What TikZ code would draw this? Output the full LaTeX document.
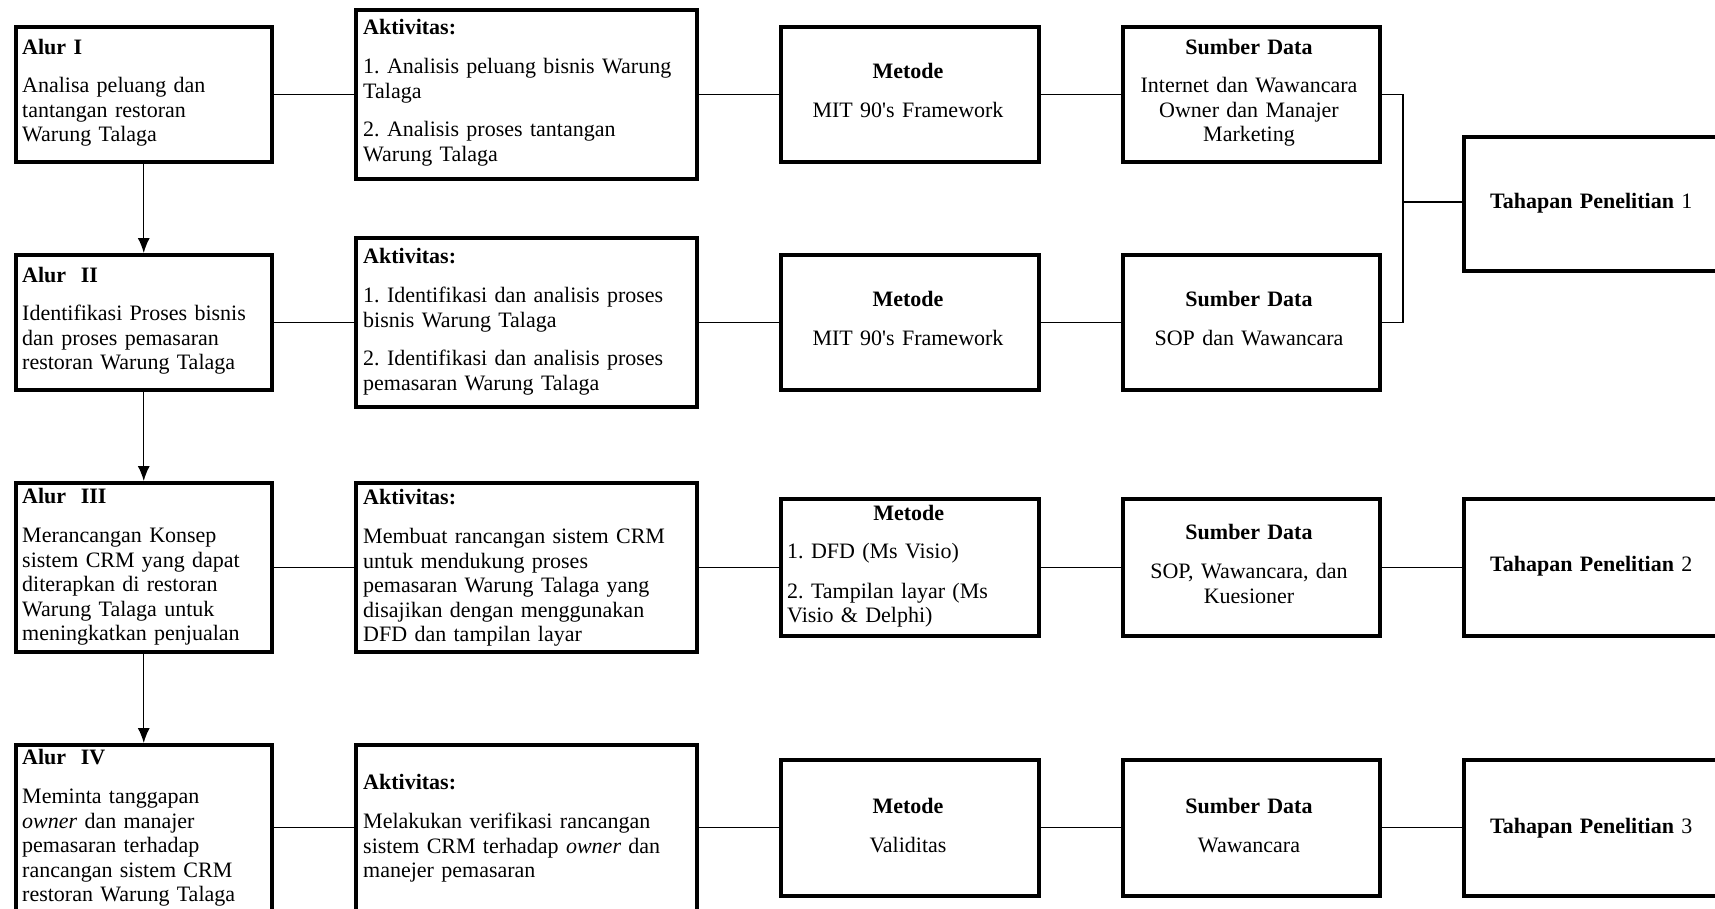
\documentclass[tikz,border=0pt]{standalone}
\usepackage{fontspec}
\setmainfont{Liberation Serif}
\usetikzlibrary{arrows.meta}
\frenchspacing
\newcommand\fs{\fontsize{22}{24.5}\selectfont\frenchspacing}
\tikzset{
  box/.style={draw, line width=3.5pt, inner sep=0pt, anchor=north west},
  lbl/.style={inner sep=0pt, anchor=base west, align=left, font=\fs},
  ctr/.style={inner sep=0pt, anchor=base, align=center, font=\fs},
  conn/.style={line width=1.3pt},
  arr/.style={line width=1.3pt, -{Latex[length=15pt,width=12pt]}},
}
\begin{document}
\begin{tikzpicture}[x=1pt,y=-1pt]
\useasboundingbox (0,0) rectangle (1715,908);
\clip (0,0) rectangle (1715,908);
% Alur column
\node[box, minimum width=256pt, minimum height=135pt] (a1) at (14,25) {};
\node[box, minimum width=256pt, minimum height=135pt] (a2) at (14,253) {};
\node[box, minimum width=256pt, minimum height=169pt] (a3) at (14,481) {};
\node[box, minimum width=256pt, minimum height=200pt] (a4) at (14,743) {};
% Aktivitas column
\node[box, minimum width=341pt, minimum height=169pt] (k1) at (354,8) {};
\node[box, minimum width=341pt, minimum height=169pt] (k2) at (354,236) {};
\node[box, minimum width=341pt, minimum height=169pt] (k3) at (354,481) {};
\node[box, minimum width=341pt, minimum height=200pt] (k4) at (354,743) {};
% Metode column
\node[box, minimum width=258pt, minimum height=135pt] (m1) at (779,25) {};
\node[box, minimum width=258pt, minimum height=135pt] (m2) at (779,253) {};
\node[box, minimum width=258pt, minimum height=137pt] (m3) at (779,497) {};
\node[box, minimum width=258pt, minimum height=136pt] (m4) at (779,758) {};
% Sumber column
\node[box, minimum width=257pt, minimum height=135pt] (s1) at (1121,25) {};
\node[box, minimum width=257pt, minimum height=135pt] (s2) at (1121,253) {};
\node[box, minimum width=257pt, minimum height=137pt] (s3) at (1121,497) {};
\node[box, minimum width=257pt, minimum height=136pt] (s4) at (1121,758) {};
% Tahapan column
\node[box, minimum width=300pt, minimum height=134pt] (p1) at (1462,135) {};
\node[box, minimum width=300pt, minimum height=137pt] (p2) at (1462,497) {};
\node[box, minimum width=300pt, minimum height=136pt] (p3) at (1462,758) {};

% Texts: Alur
\node[lbl, text width=245pt] (ta1) at (22,54) {\textbf{Alur I}\\[14pt]Analisa peluang dan\\tantangan restoran\\Warung Talaga};
\node[lbl, text width=245pt] (ta2) at (22,282) {\textbf{Alur\ \ II}\\[14pt]Identifikasi Proses bisnis\\dan proses pemasaran\\restoran Warung Talaga};
\node[lbl, text width=245pt] (ta3) at (22,503) {\textbf{Alur\ \ III}\\[15pt]Merancangan Konsep\\sistem CRM yang dapat\\diterapkan di restoran\\Warung Talaga untuk\\meningkatkan penjualan};
\node[lbl, text width=245pt] (ta4) at (22,764) {\textbf{Alur\ \ IV}\\[15pt]Meminta tanggapan\\\textit{owner} dan manajer\\pemasaran terhadap\\rancangan sistem CRM\\restoran Warung Talaga};
% Texts: Aktivitas
\node[lbl, text width=330pt] (tk1) at (363,34) {\textbf{Aktivitas:}\\[15pt]1. Analisis peluang bisnis Warung\\Talaga\\[14pt]2. Analisis proses tantangan\\Warung Talaga};
\node[lbl, text width=330pt] (tk2) at (363,263) {\textbf{Aktivitas:}\\[15pt]1. Identifikasi dan analisis proses\\bisnis Warung Talaga\\[14pt]2. Identifikasi dan analisis proses\\pemasaran Warung Talaga};
\node[lbl, text width=330pt] (tk3) at (363,504) {\textbf{Aktivitas:}\\[15pt]Membuat rancangan sistem CRM\\untuk mendukung proses\\pemasaran Warung Talaga yang\\disajikan dengan menggunakan\\DFD dan tampilan layar};
\node[lbl, text width=330pt] (tk4) at (363,789) {\textbf{Aktivitas:}\\[15pt]Melakukan verifikasi rancangan\\sistem CRM terhadap \textit{owner} dan\\manejer pemasaran};
% Texts: Metode
\node[ctr, text width=250pt] (tm1) at (908,78) {\textbf{Metode}\\[15pt]MIT 90\textquotesingle s Framework};
\node[ctr, text width=250pt] (tm2) at (908,306) {\textbf{Metode}\\[15pt]MIT 90\textquotesingle s Framework};
\node[lbl, text width=243pt] (tm3) at (787,520) {\makebox[\linewidth]{\textbf{Metode}}\\[14pt]1. DFD (Ms Visio)\\[15pt]2. Tampilan layar (Ms\\Visio \& Delphi)};
\node[ctr, text width=250pt] (tm4) at (908,813) {\textbf{Metode}\\[15pt]Validitas};
% Texts: Sumber
\node[ctr, text width=250pt] (ts1) at (1249,54) {\textbf{Sumber Data}\\[14pt]Internet dan Wawancara\\Owner dan Manajer\\Marketing};
\node[ctr, text width=250pt] (ts2) at (1249,306) {\textbf{Sumber Data}\\[15pt]SOP dan Wawancara};
\node[ctr, text width=250pt] (ts3) at (1249,539) {\textbf{Sumber Data}\\[15pt]SOP, Wawancara, dan\\Kuesioner};
\node[ctr, text width=250pt] (ts4) at (1249,813) {\textbf{Sumber Data}\\[15pt]Wawancara};
% Texts: Tahapan
\node[lbl, text width=240pt] (tp1) at (1490,208) {\textbf{Tahapan Penelitian} 1};
\node[lbl, text width=240pt] (tp2) at (1490,571) {\textbf{Tahapan Penelitian} 2};
\node[lbl, text width=240pt] (tp3) at (1490,833) {\textbf{Tahapan Penelitian} 3};

% Connectors
\draw[arr] (a1.south) -- (a2.north);
\draw[arr] (a2.south) -- (a3.north);
\draw[arr] (a3.south) -- (a4.north);
\draw[conn] (a1.east) -- (k1.west);
\draw[conn] (k1.east) -- (m1.west);
\draw[conn] (m1.east) -- (s1.west);
\draw[conn] (a2.east) -- (k2.west);
\draw[conn] (k2.east) -- (m2.west);
\draw[conn] (m2.east) -- (s2.west);
\draw[conn] (a3.east) -- (k3.west);
\draw[conn] (k3.east) -- (m3.west);
\draw[conn] (m3.east) -- (s3.west);
\draw[conn] (s3.east) -- (p2.west);
\draw[conn] (a4.east |- m4.west) -- (k4.west |- m4.west);
\draw[conn] (k4.east |- m4.west) -- (m4.west);
\draw[conn] (m4.east) -- (s4.west);
\draw[conn] (s4.east) -- (p3.west);
\coordinate (br) at (1403,202);
\draw[conn] (s1.east) -| (br);
\draw[conn] (s2.east) -| (br);
\draw[conn] (br) -- (p1.west |- br);
\end{tikzpicture}
\end{document}
